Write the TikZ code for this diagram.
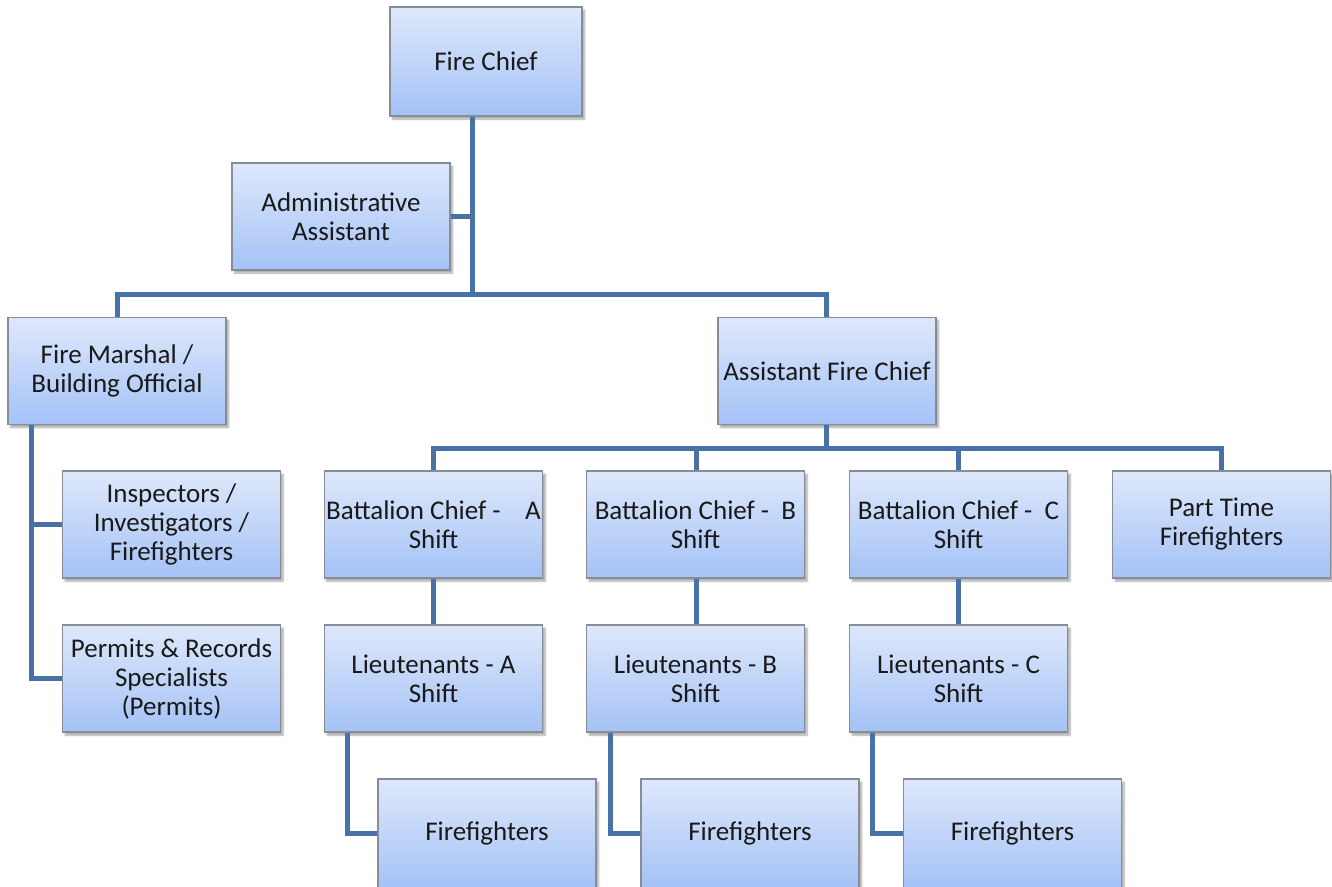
\documentclass[tikz,border=0pt]{standalone}
\usepackage{fontspec}
\setmainfont{Carlito}
\usetikzlibrary{shadows.blur}
\definecolor{boxtop}{RGB}{222,232,251}
\definecolor{boxbot}{RGB}{164,194,246}
\definecolor{boxedge}{RGB}{135,140,150}
\definecolor{linkblue}{RGB}{72,114,166}
\tikzset{
  orgbox/.style={rectangle, draw=boxedge, line width=1.2pt,
    top color=boxtop, bottom color=boxbot,
    minimum width=218pt, minimum height=107pt, inner sep=2pt,
    align=center, font=\fontsize{27}{29}\selectfont, text=black!90,
    blur shadow={shadow xshift=2.5pt, shadow yshift=-3pt, shadow blur steps=6, shadow opacity=35}},
  link/.style={draw=linkblue, line width=5pt}
}
\begin{document}
\begin{tikzpicture}[x=1pt,y=-1pt]
\useasboundingbox (0,0) rectangle (1332,886);

% boxes
\node[orgbox, minimum width=192pt, minimum height=109pt] (chief) at (486,61.5) {Fire Chief};
\node[orgbox] (admin) at (341,216.5) {Administrative\\Assistant};
\node[orgbox] (marshal) at (117,371) {Fire Marshal /\\Building Official};
\node[orgbox] (asst) at (827,371) {Assistant Fire Chief};
\node[orgbox] (insp) at (171.5,524.5) {Inspectors /\\Investigators /\\Firefighters};
\node[orgbox] (perm) at (171.5,678.5) {Permits \& Records\\Specialists\\(Permits)};
\node[orgbox] (bcA) at (433.5,524.5) {Battalion Chief -\ \ \ \ A\\Shift};
\node[orgbox] (bcB) at (695.5,524.5) {Battalion Chief -\ \ B\\Shift};
\node[orgbox] (bcC) at (958.5,524.5) {Battalion Chief -\ \ C\\Shift};
\node[orgbox] (pt) at (1221.5,524.5) {Part Time\\Firefighters};
\node[orgbox] (ltA) at (433.5,678.5) {Lieutenants - A\\Shift};
\node[orgbox] (ltB) at (695.5,678.5) {Lieutenants - B\\Shift};
\node[orgbox] (ltC) at (958.5,678.5) {Lieutenants - C\\Shift};
\node[orgbox, minimum height=109pt] (ffA) at (487,833.5) {Firefighters};
\node[orgbox, minimum height=109pt] (ffB) at (750,833.5) {Firefighters};
\node[orgbox, minimum height=109pt] (ffC) at (1012.5,833.5) {Firefighters};

% junction points
\coordinate (jtop) at (472,294);
\coordinate (jmid) at (826,448);

% chief to the two divisions
\draw[link] (chief.south -| jtop) -- (jtop);
\draw[link] (admin.east) -- (admin.east -| jtop);
\draw[link] (marshal.north -| 117,0) -- (117,294) -- (826,294) -- (asst.north -| 826,0);

% assistant chief to shifts
\draw[link] (asst.south -| jmid) -- (jmid);
\draw[link] (bcA.north -| 433,0) -- (433,448) -- (1221,448) -- (pt.north -| 1221,0);
\draw[link] (bcB.north -| 696,0) -- (696,448);
\draw[link] (bcC.north -| 958,0) -- (958,448);

% battalion chiefs to lieutenants
\draw[link] (bcA.south -| 433,0) -- (ltA.north -| 433,0);
\draw[link] (bcB.south -| 696,0) -- (ltB.north -| 696,0);
\draw[link] (bcC.south -| 958,0) -- (ltC.north -| 958,0);

% lieutenants to firefighters
\draw[link] (ltA.south -| 347,0) |- (ffA.west);
\draw[link] (ltB.south -| 610,0) |- (ffB.west);
\draw[link] (ltC.south -| 872,0) |- (ffC.west);

% fire marshal staff
\draw[link] (marshal.south -| 31,0) |- (perm.west);
\draw[link] (insp.west) -- (insp.west -| 31,0);
\end{tikzpicture}
\end{document}
